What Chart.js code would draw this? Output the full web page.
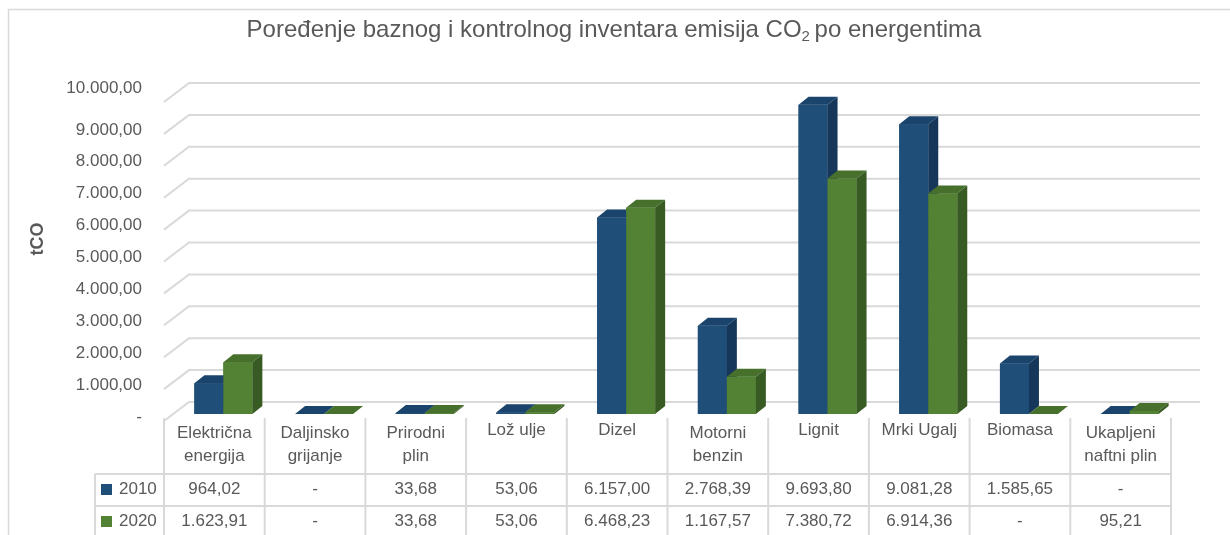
<!DOCTYPE html>
<html>
<head>
<meta charset="utf-8">
<script src="https://cdn.jsdelivr.net/npm/chart.js@4.4.0/dist/chart.umd.min.js"></script>
<style>
  html, body { margin: 0; padding: 0; background: #fff; }
</style>
</head>
<body>
<canvas id="emisije" width="1230" height="535"></canvas>
<script>
// energenti i emisije (tCO2)
const categories = [
  ["Električna", "energija"],
  ["Daljinsko", "grijanje"],
  ["Prirodni", "plin"],
  ["Lož ulje"],
  ["Dizel"],
  ["Motorni", "benzin"],
  ["Lignit"],
  ["Mrki Ugalj"],
  ["Biomasa"],
  ["Ukapljeni", "naftni plin"]
];
const years = ["2010", "2020"];
const values2010 = [964.02, 0, 33.68, 53.06, 6157.00, 2768.39, 9693.80, 9081.28, 1585.65, 0];
const values2020 = [1623.91, 0, 33.68, 53.06, 6468.23, 1167.57, 7380.72, 6914.36, 0, 95.21];
const yTicks = [0, 1000, 2000, 3000, 4000, 5000, 6000, 7000, 8000, 9000, 10000];

const FONT = "'Liberation Sans', Arial, sans-serif";
const TEXT = "#595959";
const LINE = "#d9d9d9";

// boje lica stupaca: prednje, gornje, bočno
const faces = [
  { front: "#1F4E79", top: "#1B446C", side: "#16375A" },
  { front: "#548235", top: "#46702C", side: "#385A23" }
];

// pomaci za 3D: dubina stupca, zid iza, rub poda ispred
const D = { barX: 10, barY: 8, backX: 16, backY: 12, frontX: 9, frontY: 7 };

function fmt(v) {
  if (!v) return "-";
  const parts = v.toFixed(2).split(".");
  return parts[0].replace(/\B(?=(\d{3})+(?!\d))/g, ".") + "," + parts[1];
}

function quad(ctx, pts, fill) {
  ctx.beginPath();
  ctx.moveTo(pts[0][0], pts[0][1]);
  for (let i = 1; i < pts.length; i++) ctx.lineTo(pts[i][0], pts[i][1]);
  ctx.closePath();
  ctx.fillStyle = fill;
  ctx.fill();
}

const threeD = {
  id: "threeD",
  beforeDatasetsDraw(chart) {
    const ctx = chart.ctx;
    const y = chart.scales.y;
    const area = chart.chartArea;
    const backL = area.left + D.backX;
    const backR = area.right + 20;
    const frontL = area.left - D.frontX;
    ctx.save();
    ctx.strokeStyle = LINE;
    ctx.lineWidth = 2;
    ctx.font = "17px " + FONT;
    ctx.fillStyle = TEXT;
    ctx.textAlign = "right";
    ctx.textBaseline = "middle";
    yTicks.forEach(v => {
      const yb = y.getPixelForValue(v) - D.backY;
      const yf = yb + D.backY + D.frontY;
      ctx.beginPath();
      ctx.moveTo(frontL, yf);
      ctx.lineTo(backL, yb);
      ctx.lineTo(backR, yb);
      ctx.stroke();
      // najviša oznaka stoji bliže svojoj liniji
      const ly = v === yTicks[yTicks.length - 1] ? yb + 5 : yb + 15;
      ctx.fillText(v === 0 ? "-" : fmt(v), 142, ly);
    });
    ctx.restore();
  },
  afterDatasetsDraw(chart) {
    const ctx = chart.ctx;
    const metas = [chart.getDatasetMeta(0), chart.getDatasetMeta(1)];
    ctx.save();
    for (let i = 0; i < categories.length; i++) {
      metas.forEach((meta, di) => {
        const b = meta.data[i].getProps(["x", "y", "base", "width"], true);
        const x0 = b.x - b.width / 2, x1 = b.x + b.width / 2;
        const c = faces[di];
        quad(ctx, [[x0, b.y], [x1, b.y], [x1, b.base], [x0, b.base]], c.front);
        quad(ctx, [[x0, b.y], [x1, b.y], [x1 + D.barX, b.y - D.barY], [x0 + D.barX, b.y - D.barY]], c.top);
        quad(ctx, [[x1, b.y], [x1 + D.barX, b.y - D.barY], [x1 + D.barX, b.base - D.barY], [x1, b.base]], c.side);
      });
    }
    ctx.restore();
  },
  afterDraw(chart) {
    const ctx = chart.ctx;
    const x = chart.scales.x;
    const y = chart.scales.y;
    ctx.save();

    // okvir
    ctx.strokeStyle = LINE;
    ctx.lineWidth = 1.5;
    ctx.strokeRect(8.5, 9.5, 1400, 700);

    // naslov s indeksom u CO2
    ctx.fillStyle = TEXT;
    ctx.textBaseline = "alphabetic";
    ctx.textAlign = "left";
    const t1 = "Poređenje baznog i kontrolnog inventara emisija CO";
    const t2 = "2";
    const t3 = " po energentima";
    ctx.font = "24px " + FONT;
    const w1 = ctx.measureText(t1).width, w3 = ctx.measureText(t3).width;
    ctx.font = "15px " + FONT;
    const w2 = ctx.measureText(t2).width;
    let tx = 615 - (w1 + w2 + w3) / 2;
    ctx.font = "24px " + FONT;
    ctx.fillText(t1, tx, 37);
    ctx.font = "15px " + FONT;
    ctx.fillText(t2, tx + w1, 41);
    ctx.font = "24px " + FONT;
    ctx.fillText(t3, tx + w1 + w2 - 2, 37);

    // naslov osi
    ctx.save();
    ctx.translate(38, 239);
    ctx.rotate(-Math.PI / 2);
    ctx.font = "bold 18px " + FONT;
    ctx.textAlign = "center";
    ctx.textBaseline = "middle";
    ctx.fillText("tCO", 0, 0);
    ctx.restore();

    // tablica podataka
    const colW = x.getPixelForValue(1) - x.getPixelForValue(0);
    const left = i => x.getPixelForValue(i) - colW / 2 - D.frontX;
    const floorY = y.getPixelForValue(0) + D.frontY;
    const headBottom = 474, rowH = 32, serLeft = 95;
    const tableR = left(categories.length);

    ctx.strokeStyle = LINE;
    ctx.lineWidth = 2;
    ctx.beginPath();
    for (let i = 0; i <= categories.length; i++) {
      ctx.moveTo(left(i), floorY - 3);
      ctx.lineTo(left(i), 540);
    }
    ctx.moveTo(serLeft, headBottom);
    ctx.lineTo(serLeft, 540);
    for (let r = 0; r <= 2; r++) {
      ctx.moveTo(serLeft, headBottom + r * rowH);
      ctx.lineTo(tableR, headBottom + r * rowH);
    }
    ctx.stroke();

    ctx.font = "17px " + FONT;
    ctx.fillStyle = TEXT;
    ctx.textAlign = "center";
    ctx.textBaseline = "middle";
    categories.forEach((lines, i) => {
      const cx = left(i) + colW / 2;
      const y0 = lines.length > 1 ? 433 : 430;
      lines.forEach((ln, k) => ctx.fillText(ln, cx, y0 + k * 23));
    });

    [values2010, values2020].forEach((vals, r) => {
      const cy = headBottom + r * rowH + 15;
      ctx.fillStyle = faces[r].front;
      ctx.fillRect(101, cy - 5, 11, 11);
      ctx.fillStyle = TEXT;
      ctx.textAlign = "left";
      ctx.fillText(years[r], 119, cy);
      ctx.textAlign = "center";
      vals.forEach((v, i) => ctx.fillText(fmt(v), left(i) + colW / 2, cy));
    });

    ctx.restore();
  }
};

new Chart(document.getElementById("emisije"), {
  type: "bar",
  data: {
    labels: categories,
    datasets: [
      { label: years[0], data: values2010, backgroundColor: faces[0].front },
      { label: years[1], data: values2020, backgroundColor: faces[1].front }
    ]
  },
  options: {
    responsive: false,
    animation: false,
    events: [],
    layout: { padding: { left: 173, right: 50, top: 95, bottom: 121 } },
    datasets: { bar: { barPercentage: 1, categoryPercentage: 0.576, borderWidth: 0 } },
    scales: {
      x: { display: false },
      y: { display: false, min: 0, max: 10000 }
    },
    plugins: {
      legend: { display: false },
      title: { display: false },
      tooltip: { enabled: false }
    }
  },
  plugins: [threeD]
});
</script>
</body>
</html>
